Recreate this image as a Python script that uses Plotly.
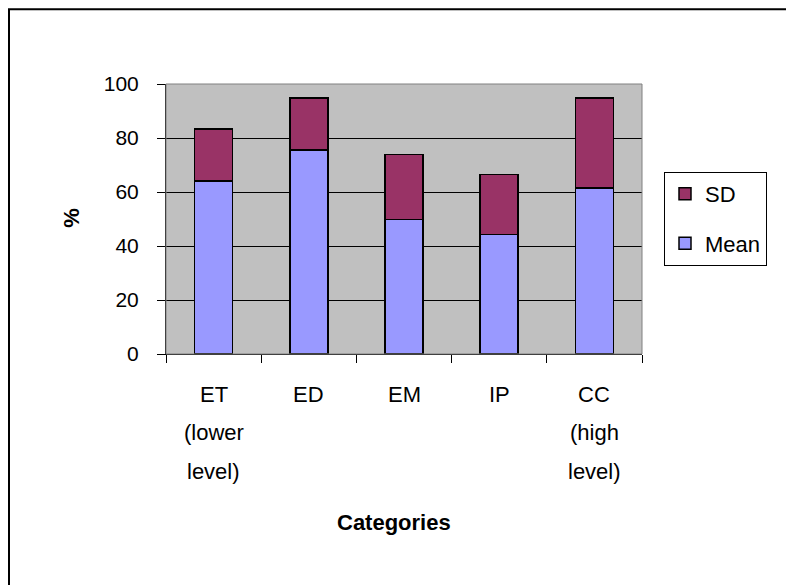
import plotly.graph_objects as go

categories = ["ET", "ED", "EM", "IP", "CC"]
tick_lines = [["ET", "(lower", "level)"], ["ED"], ["EM"], ["IP"], ["CC", "(high", "level)"]]
mean_vals = [64.0, 75.6, 49.8, 44.2, 61.5]
sd_vals = [19.3, 19.3, 24.1, 22.2, 33.4]

FONT = "Arial, Liberation Sans, sans-serif"
OFF = 8  # page body margin
W, H = 794 - OFF, 585 - OFF
L, T = 166 - OFF, 84 - OFF
R = W - (642 - OFF)
B = H - (354.5 - OFF)
pw, ph = W - L - R, H - T - B

def px_x(px):
    return (px - OFF - L) / pw

def px_y(py):
    return (H - B - (py - OFF)) / ph

FS = 22

fig = go.Figure()
fig.add_trace(go.Bar(x=categories, y=mean_vals, name="Mean", legendgroup="g2", legendrank=2,
                     marker=dict(color="#9999FF", line=dict(color="black", width=1.5))))
fig.add_trace(go.Bar(x=categories, y=sd_vals, name="SD", legendgroup="g1", legendrank=1,
                     marker=dict(color="#993366", line=dict(color="black", width=1.5))))

annotations = []
line_y = [395, 433, 472]
for cat, lines in zip(categories, tick_lines):
    for i, t in enumerate(lines):
        annotations.append(dict(x=cat, xref="x", y=px_y(line_y[i]), yref="paper",
                                text=t, showarrow=False, xanchor="center", yanchor="middle",
                                font=dict(family=FONT, size=FS, color="black")))
annotations.append(dict(x=px_x(393.5), y=px_y(523), xref="paper", yref="paper", text="<b>Categories</b>",
                        showarrow=False, xanchor="center", yanchor="middle",
                        font=dict(family=FONT, size=FS, color="black")))
annotations.append(dict(x=px_x(72), y=px_y(218), xref="paper", yref="paper", text="<b>%</b>",
                        textangle=-90, showarrow=False, xanchor="center", yanchor="middle",
                        font=dict(family=FONT, size=FS, color="black")))

shapes = [
    dict(type="rect", xref="paper", yref="paper", x0=0, x1=1, y0=0, y1=1,
         line=dict(color="#808080", width=1), fillcolor="rgba(0,0,0,0)", layer="above"),
    dict(type="rect", xref="paper", yref="paper", x0=px_x(9), x1=px_x(830), y0=px_y(640), y1=px_y(9),
         line=dict(color="black", width=2), fillcolor="rgba(0,0,0,0)", layer="above"),
]

fig.update_layout(
    width=W, height=H,
    margin=dict(l=L, r=R, t=T, b=B, autoexpand=False),
    barmode="stack", bargap=0.6,
    paper_bgcolor="white", plot_bgcolor="#C0C0C0",
    font=dict(family=FONT, size=FS, color="black"),
    showlegend=True,
    legend=dict(x=px_x(664), y=px_y(172), xanchor="left", yanchor="top",
                traceorder="grouped", tracegroupgap=18, itemwidth=30,
                bgcolor="white", bordercolor="black", borderwidth=1,
                font=dict(family=FONT, size=FS, color="black")),
    xaxis=dict(showticklabels=False, ticks="outside", tickson="boundaries", ticklen=8,
               tickcolor="black", showline=True, linecolor="black", linewidth=1,
               showgrid=False),
    yaxis=dict(range=[0, 100], tickvals=[0, 20, 40, 60, 80, 100], ticks="outside", ticklen=8,
               tickcolor="black", showline=True, linecolor="black", linewidth=1,
               showgrid=True, gridcolor="black", gridwidth=1, zeroline=False,
               ticklabelstandoff=14, tickfont=dict(family=FONT, size=21, color="black")),
    annotations=annotations, shapes=shapes,
)

fig.write_html("out.html")
